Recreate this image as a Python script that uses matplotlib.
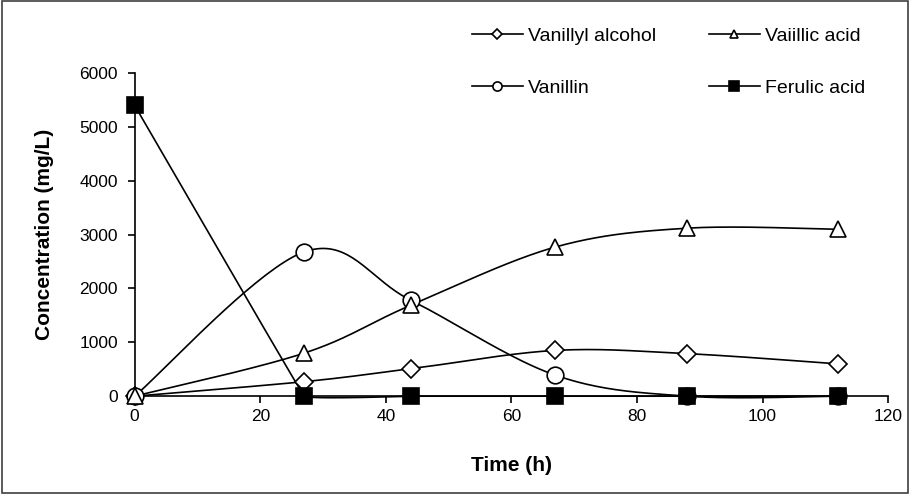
import numpy as np
import matplotlib.pyplot as plt
from matplotlib.patches import Rectangle

plt.rcParams['font.family'] = ['Liberation Sans', 'DejaVu Sans']

time_h = [0, 27, 44, 67, 88, 112]
vanillyl_alcohol = [0, 270, 510, 850, 790, 600]
vanillic_acid = [0, 800, 1690, 2770, 3120, 3100]
vanillin = [0, 2680, 1780, 390, 0, 0]
ferulic_acid = [5400, 0, 0, 0, 0, 0]


def smooth(x, y, k=1 / 6, n=40):
    # catmull-rom style bezier, like spreadsheet smoothed lines
    x = np.asarray(x, float)
    y = np.asarray(y, float)
    xs, ys = [], []
    for i in range(len(x) - 1):
        i0 = max(i - 1, 0)
        i3 = min(i + 2, len(x) - 1)
        c1 = (x[i] + (x[i + 1] - x[i0]) * k, y[i] + (y[i + 1] - y[i0]) * k)
        c2 = (x[i + 1] - (x[i3] - x[i]) * k, y[i + 1] - (y[i3] - y[i]) * k)
        t = np.linspace(0, 1, n)
        b0, b1, b2, b3 = (1 - t) ** 3, 3 * (1 - t) ** 2 * t, 3 * (1 - t) * t ** 2, t ** 3
        xs.append(b0 * x[i] + b1 * c1[0] + b2 * c2[0] + b3 * x[i + 1])
        ys.append(b0 * y[i] + b1 * c1[1] + b2 * c2[1] + b3 * y[i + 1])
    return np.concatenate(xs), np.concatenate(ys)


fig = plt.figure(figsize=(9.1, 4.94), dpi=100)
ax = fig.add_axes([0.148, 0.198, 0.828, 0.654])

series = [
    (vanillyl_alcohol, 'D', 9.5, 'Vanillyl alcohol', 1 / 6),
    (vanillin, 'o', 12, 'Vanillin', 1 / 6),
    (vanillic_acid, '^', 11, 'Vaiillic acid', 1 / 6),
    (ferulic_acid, 's', 12, 'Ferulic acid', 0.012),
]
for vals, mk, ms, label, k in series:
    sx, sy = smooth(time_h, vals, k)
    ax.plot(sx, sy, color='black', lw=1.2, clip_on=False, zorder=2)
    face = 'black' if mk == 's' else 'white'
    ax.plot(time_h, vals, ls='none', marker=mk, ms=ms, mfc=face, mec='black',
            mew=1.2, clip_on=False, zorder=3)
    ax.plot([], [], color='black', lw=1.2, marker=mk, ms=ms * 0.55, mfc=face,
            mec='black', mew=1.2, label=label)

ax.set_xlim(0, 120)
ax.set_ylim(0, 6000)
ax.set_xticks(range(0, 121, 20))
ax.set_yticks(range(0, 6001, 1000))
for s in ['top', 'right']:
    ax.spines[s].set_visible(False)
for s in ['left', 'bottom']:
    ax.spines[s].set_linewidth(1.2)
ax.tick_params(direction='out', length=5, width=1.2, labelsize=12.5, pad=4)
ax.tick_params(axis='y', pad=7)
ax.set_xlabel('Time (h)', fontsize=15, fontweight='bold', labelpad=23)
ax.set_ylabel('Concentration (mg/L)', fontsize=15, fontweight='bold', labelpad=18)

fig.legend(loc='upper left', bbox_to_anchor=(0.5187, 0.945), ncol=2, frameon=False,
           fontsize=14, handlelength=2.6, labelspacing=1.76, columnspacing=2.7,
           handletextpad=0.3, borderpad=0, borderaxespad=0)

fig.add_artist(Rectangle((0.002, 0.003), 0.996, 0.994, transform=fig.transFigure,
                         fill=False, ec='#404040', lw=1.2))

fig.savefig('out.png', dpi=100)
